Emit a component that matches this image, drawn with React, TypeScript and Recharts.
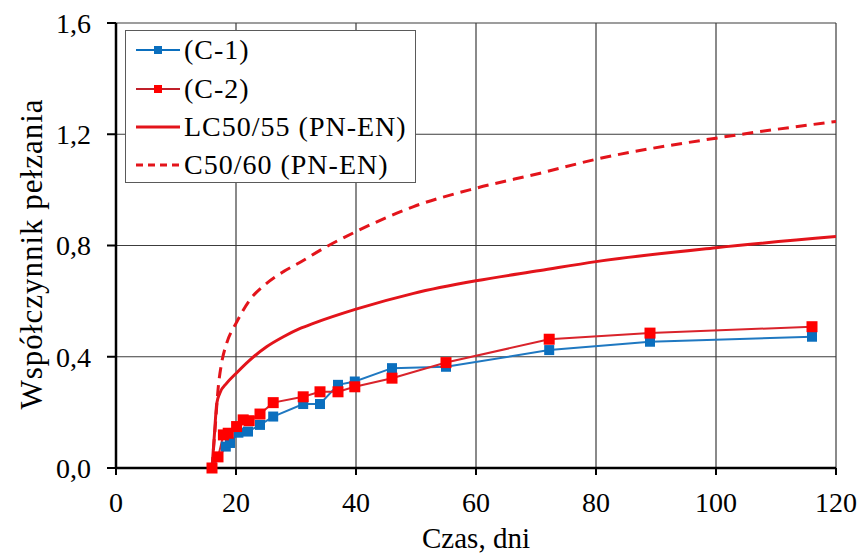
import React from "react"
import { LineChart, Line, XAxis, YAxis, CartesianGrid, Legend } from "recharts"

// measured creep coefficient, specimen C-1 (days, value)
const c1Days = [16, 18.3, 19, 20.4, 22, 24, 26.2, 31.2, 34, 37, 39.8, 46, 55, 72.2, 89, 116]
const c1Values = [0, 0.077, 0.09, 0.127, 0.131, 0.155, 0.185, 0.23, 0.23, 0.299, 0.311, 0.359, 0.364, 0.424, 0.454, 0.472]

// measured creep coefficient, specimen C-2
const c2Days = [16, 17, 17.9, 18.7, 20.1, 21.2, 22.2, 24, 26.2, 31.2, 34, 37, 39.8, 46, 55, 72.2, 89, 116]
const c2Values = [0, 0.04, 0.119, 0.125, 0.149, 0.173, 0.17, 0.194, 0.235, 0.256, 0.274, 0.274, 0.292, 0.323, 0.379, 0.463, 0.485, 0.508]

// PN-EN curve for LC50/55
const lcDays = [16, 16.4, 16.8, 17.3, 18.45, 20, 22.3, 25.1, 27.9, 30.7, 32.9, 40, 49.6, 60, 70.7, 80, 100, 120]
const lcValues = [0, 0.12, 0.233, 0.269, 0.305, 0.34, 0.388, 0.436, 0.472, 0.502, 0.52, 0.571, 0.628, 0.673, 0.71, 0.742, 0.792, 0.832]

// PN-EN curve for C50/60
const cDays = [16, 16.5, 17.05, 17.6, 18.45, 20, 22.3, 25.1, 27.9, 30.4, 35.1, 40, 49.6, 60, 70.7, 80, 100, 120]
const cValues = [0, 0.137, 0.292, 0.377, 0.449, 0.52, 0.604, 0.664, 0.706, 0.736, 0.796, 0.85, 0.94, 1.006, 1.06, 1.11, 1.186, 1.246]

const seriesNames = ["(C-1)", "(C-2)", "LC50/55 (PN-EN)", "C50/60 (PN-EN)"]
const xTicks = [0, 20, 40, 60, 80, 100, 120]
const yTicks = [0, 0.4, 0.8, 1.2, 1.6]

const zip = (xs: number[], ys: number[]) => xs.map((x, i) => ({ x, y: ys[i] }))

const c1Data = zip(c1Days, c1Values)
const c2Data = zip(c2Days, c2Values)
const lcData = zip(lcDays, lcValues)
const cData = zip(cDays, cValues)

const FONT = "Liberation Serif"
const BLUE = "#0B6FBE"
const RED = "#FF0000"
const RED_LINE = "#E3141B"

const squareDot = (fill: string, size: number) => (props: any) => {
  const { cx, cy, index } = props
  if (cx == null || cy == null) return <g key={index} />
  return <rect key={index} x={cx - size / 2} y={cy - size / 2} width={size} height={size} fill={fill} />
}

const legendStyles = [
  { color: BLUE, marker: true, dash: undefined as string | undefined },
  { color: RED, marker: true, dash: undefined },
  { color: RED_LINE, marker: false, dash: undefined },
  { color: RED_LINE, marker: false, dash: "7 5" },
]

const tickStyle = { fill: "#000", fontSize: 28, fontFamily: FONT, style: { fontFamily: FONT } }

function LegendBox() {
  return (
    <div
      style={{
        width: 291,
        height: 153,
        boxSizing: "border-box",
        border: "1px solid #5a5a5a",
        background: "#fff",
        fontFamily: FONT,
        fontSize: 28,
        letterSpacing: 1,
        color: "#000",
      }}
    >
      {seriesNames.map((name, i) => {
        const s = legendStyles[i]
        return (
          <div key={name} style={{ height: 38.4, display: "flex", alignItems: "center" }}>
            <svg width={58} height={20} style={{ flex: "none" }}>
              <line
                x1={10}
                x2={54}
                y1={10}
                y2={10}
                stroke={i === 1 ? "#C0202A" : s.color}
                strokeWidth={s.marker ? 2 : 3}
                strokeDasharray={s.dash}
              />
              {s.marker && <rect x={28} y={6} width={8} height={8} fill={s.color} />}
            </svg>
            <span style={{ lineHeight: 1, fontFamily: FONT }}>{name}</span>
          </div>
        )
      })}
    </div>
  )
}

export default function App() {
  return (
    <div
      style={{
        position: "absolute",
        left: 0,
        top: 0,
        width: 861,
        height: 556,
        background: "#fff",
        fontFamily: FONT,
      }}
    >
      <LineChart width={861} height={556} margin={{ top: 23, right: 25, bottom: 0, left: 0 }} style={{ fontFamily: FONT }}>
        <CartesianGrid stroke="#3c3c3c" strokeWidth={1.2} />
        <XAxis
          type="number"
          dataKey="x"
          domain={[0, 120]}
          ticks={xTicks}
          allowDataOverflow
          height={88}
          tickSize={7}
          tickMargin={17}
          axisLine={{ stroke: "#000", strokeWidth: 2.5 }}
          tickLine={{ stroke: "#000", strokeWidth: 2 }}
          tick={tickStyle}
          label={{
            content: () => (
              <text x={476} y={548} textAnchor="middle" fontSize={29} fontFamily={FONT} fill="#000">
                Czas, dni
              </text>
            ),
          }}
        />
        <YAxis
          type="number"
          domain={[0, 1.6]}
          ticks={yTicks}
          width={116}
          tickSize={9}
          tickMargin={16}
          tickFormatter={(v: number) => v.toFixed(1).replace(".", ",")}
          axisLine={{ stroke: "#000", strokeWidth: 2.5 }}
          tickLine={{ stroke: "#000", strokeWidth: 2 }}
          tick={tickStyle}
          label={{
            content: () => (
              <text
                x={31}
                y={254}
                transform="rotate(-90 31 254)"
                textAnchor="middle"
                dominantBaseline="central"
                fontSize={31}
                letterSpacing={1}
                fontFamily={FONT}
                fill="#000"
              >
                Współczynnik pełzania
              </text>
            ),
          }}
        />
        <Line
          data={cData}
          dataKey="y"
          name={seriesNames[3]}
          type="monotone"
          stroke={RED_LINE}
          strokeWidth={3}
          strokeDasharray="11 7"
          dot={false}
          isAnimationActive={false}
        />
        <Line
          data={lcData}
          dataKey="y"
          name={seriesNames[2]}
          type="monotone"
          stroke={RED_LINE}
          strokeWidth={3}
          dot={false}
          isAnimationActive={false}
        />
        <Line
          data={c1Data}
          dataKey="y"
          name={seriesNames[0]}
          type="linear"
          stroke="#1F78C1"
          strokeWidth={2}
          dot={squareDot(BLUE, 10)}
          isAnimationActive={false}
        />
        <Line
          data={c2Data}
          dataKey="y"
          name={seriesNames[1]}
          type="linear"
          stroke="#D9232B"
          strokeWidth={2}
          dot={squareDot(RED, 11)}
          isAnimationActive={false}
        />
        <Legend
          layout="vertical"
          align="center"
          verticalAlign="middle"
          content={() => <LegendBox />}
          wrapperStyle={{ left: 125, top: 30, width: 291, height: 153 }}
        />
      </LineChart>
    </div>
  )
}
